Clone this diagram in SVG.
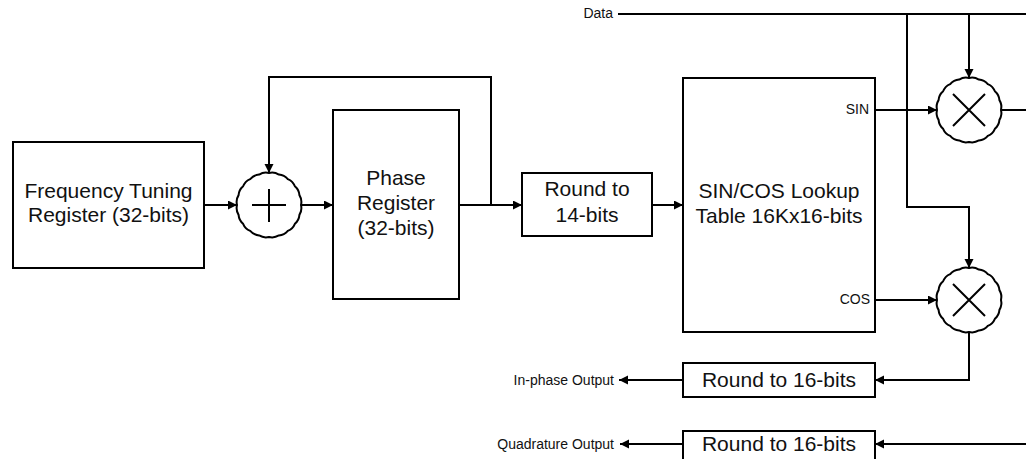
<svg xmlns="http://www.w3.org/2000/svg" xmlns:xlink="http://www.w3.org/1999/xlink" width="1026" height="459" viewBox="0 0 1026 459">
  <style>
    .box { fill: #ffffff; stroke: #000000; stroke-width: 2; }
    .op { fill: #ffffff; stroke: #000000; stroke-width: 2; }
    .sym { fill: none; stroke: #000000; stroke-width: 2; }
    .wire { fill: none; stroke: #000000; stroke-width: 2; }
    .big { font-family: "Liberation Sans", Arial, sans-serif; font-size: 21px; fill: #111111; text-anchor: middle; }
    .small { font-family: "Liberation Sans", Arial, sans-serif; font-size: 14px; fill: #111111; text-anchor: end; }
  </style>
  <defs>
    <marker id="arrow" markerUnits="userSpaceOnUse" markerWidth="10" markerHeight="10" refX="9" refY="4.5" orient="auto">
      <path d="M0,0 L9,4.5 L0,9 Z" fill="#000000"/>
    </marker>
    <!-- lightly scalloped operator circle, radius 32, centred on the origin -->
    <path id="opCircle" class="op" d="M32,0 A13,13 0 0 1 30.43,9.89 A13,13 0 0 1 25.89,18.81 A13,13 0 0 1 18.81,25.89 A13,13 0 0 1 9.89,30.43 A13,13 0 0 1 0,32 A13,13 0 0 1 -9.89,30.43 A13,13 0 0 1 -18.81,25.89 A13,13 0 0 1 -25.89,18.81 A13,13 0 0 1 -30.43,9.89 A13,13 0 0 1 -32,0 A13,13 0 0 1 -30.43,-9.89 A13,13 0 0 1 -25.89,-18.81 A13,13 0 0 1 -18.81,-25.89 A13,13 0 0 1 -9.89,-30.43 A13,13 0 0 1 0,-32 A13,13 0 0 1 9.89,-30.43 A13,13 0 0 1 18.81,-25.89 A13,13 0 0 1 25.89,-18.81 A13,13 0 0 1 30.43,-9.89 A13,13 0 0 1 32,0 Z"/>
  </defs>

  <rect width="1026" height="459" fill="#ffffff"/>

  <!-- connectors -->
  <g id="connectors" class="wire">
    <path d="M204,205 H237" marker-end="url(#arrow)"/>
    <path d="M301,205 H333" marker-end="url(#arrow)"/>
    <path d="M459,205 H522" marker-end="url(#arrow)"/>
    <path d="M491,205 V77 H269 V173" marker-end="url(#arrow)"/>
    <path d="M652,205 H683" marker-end="url(#arrow)"/>
    <path d="M875,110 H937" marker-end="url(#arrow)"/>
    <path d="M875,300 H937" marker-end="url(#arrow)"/>
    <path d="M618,14 H1026"/>
    <path d="M969,14 V78" marker-end="url(#arrow)"/>
    <path d="M907,14 V207 H969 V268" marker-end="url(#arrow)"/>
    <path d="M1001,110 H1026"/>
    <path d="M969,332 V380 H875" marker-end="url(#arrow)"/>
    <path d="M683,380 H619" marker-end="url(#arrow)"/>
    <path d="M1026,444 H875" marker-end="url(#arrow)"/>
    <path d="M683,444 H620" marker-end="url(#arrow)"/>
  </g>

  <g id="freq-tuning-register">
    <rect class="box" x="13" y="142" width="191" height="126"/>
    <text class="big" x="108.5" y="198">Frequency Tuning</text>
    <text class="big" x="108.5" y="222">Register (32-bits)</text>
  </g>

  <g id="phase-adder">
    <use xlink:href="#opCircle" transform="translate(269,205)"/>
    <path class="sym" d="M252,205 H286 M269,189 V222"/>
  </g>

  <g id="phase-register">
    <rect class="box" x="333" y="110" width="126" height="189"/>
    <text class="big" x="396" y="185">Phase</text>
    <text class="big" x="396" y="210">Register</text>
    <text class="big" x="396" y="235">(32-bits)</text>
  </g>

  <g id="round-14">
    <rect class="box" x="522" y="173" width="130" height="63"/>
    <text class="big" x="587" y="196">Round to</text>
    <text class="big" x="587" y="222">14-bits</text>
  </g>

  <g id="sin-cos-lut">
    <rect class="box" x="683" y="78" width="192" height="254"/>
    <text class="big" x="779" y="198">SIN/COS Lookup</text>
    <text class="big" x="779" y="223">Table 16Kx16-bits</text>
    <text class="small" x="869" y="114">SIN</text>
    <text class="small" x="870" y="304">COS</text>
  </g>

  <g id="mixer-sin">
    <use xlink:href="#opCircle" transform="translate(969,110)"/>
    <path class="sym" d="M953,94 L985,126 M985,94 L953,126"/>
  </g>

  <g id="mixer-cos">
    <use xlink:href="#opCircle" transform="translate(969,300)"/>
    <path class="sym" d="M953,284 L985,316 M985,284 L953,316"/>
  </g>

  <g id="round-16-i">
    <rect class="box" x="683" y="363" width="192" height="34"/>
    <text class="big" x="779" y="387">Round to 16-bits</text>
  </g>

  <g id="round-16-q">
    <rect class="box" x="683" y="431" width="192" height="40"/>
    <text class="big" x="779" y="451">Round to 16-bits</text>
  </g>

  <g id="labels">
    <text class="small" x="613" y="18">Data</text>
    <text class="small" x="614" y="385">In-phase Output</text>
    <text class="small" x="614" y="449">Quadrature Output</text>
  </g>
</svg>
